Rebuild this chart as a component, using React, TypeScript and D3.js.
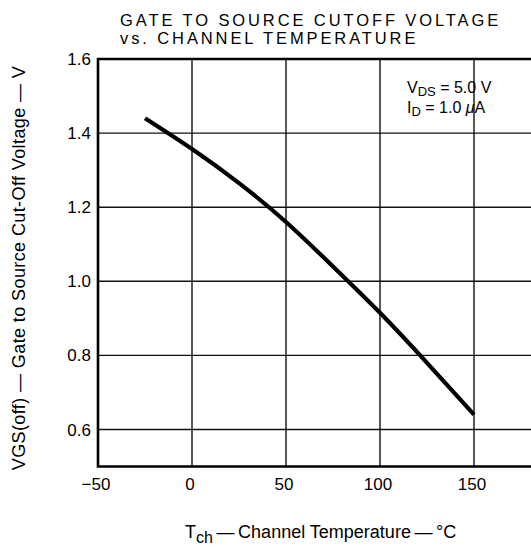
import * as d3 from 'd3';
import React, { useEffect, useRef } from 'react';

// channel temperature (°C) vs VGS(off) (V)
const temps = [-25, 0, 25, 50, 75, 100, 125, 150];
const volts = [1.44, 1.357, 1.265, 1.16, 1.04, 0.915, 0.78, 0.64];

const xTicks = [-50, 0, 50, 100, 150, 200];
const yTicks = [0.6, 0.8, 1.0, 1.2, 1.4, 1.6];

const titleLines = ['GATE TO SOURCE CUTOFF VOLTAGE', 'vs. CHANNEL TEMPERATURE'];

const font = '"Liberation Sans", Arial, sans-serif';

/**
 * Gate to source cutoff voltage chart.
 */
export default function App() {
    const ref = useRef<SVGSVGElement>(null);

    useEffect(() => {
        document.body.style.margin = '0';
        const svg = d3.select(ref.current);
        svg.selectAll('*').remove();

        const x = d3.scaleLinear().domain([-50, 150]).range([98, 474]);
        const y = d3.scaleLinear().domain([0.6, 1.6]).range([429.5, 59]);
        const x0 = x(-50);
        const x1 = x(200);
        const yTop = y(1.6);
        const yBot = y(0.5);

        // grid
        const grid = svg.append('g').attr('stroke', '#111').attr('stroke-width', 1.4);
        grid.selectAll('line.v')
            .data(xTicks.slice(1))
            .enter()
            .append('line')
            .attr('x1', d => x(d)).attr('x2', d => x(d))
            .attr('y1', yTop).attr('y2', yBot);
        grid.selectAll('line.h')
            .data(yTicks.slice(0, -1))
            .enter()
            .append('line')
            .attr('x1', x0).attr('x2', x1)
            .attr('y1', d => y(d)).attr('y2', d => y(d));

        // frame
        svg.append('path')
            .attr('d', `M${x1},${yTop}H${x0}V${yBot}H${x1}`)
            .attr('fill', 'none')
            .attr('stroke', '#000')
            .attr('stroke-width', 2.6);

        // curve
        const line = d3.line<number>()
            .x((_, i) => x(temps[i]))
            .y(d => y(d))
            .curve(d3.curveNatural);
        svg.append('path')
            .attr('d', line(volts))
            .attr('fill', 'none')
            .attr('stroke', '#000')
            .attr('stroke-width', 4.2);

        // tick labels
        svg.append('g')
            .selectAll('text')
            .data(yTicks)
            .enter()
            .append('text')
            .attr('x', 91)
            .attr('y', d => y(d) + 6)
            .attr('text-anchor', 'end')
            .style('font-size', '17px')
            .text(d => d.toFixed(1));
        svg.append('g')
            .selectAll('text')
            .data(xTicks.slice(0, -1))
            .enter()
            .append('text')
            .attr('x', d => x(d) - 2)
            .attr('y', 490)
            .attr('text-anchor', 'middle')
            .style('font-size', '17px')
            .text(d => (d < 0 ? `−${-d}` : `${d}`));

        // title
        svg.append('g')
            .selectAll('text')
            .data(titleLines)
            .enter()
            .append('text')
            .attr('x', 120)
            .attr('y', (_, i) => 26 + i * 18)
            .style('font-size', '16.5px')
            .style('letter-spacing', '2.9px')
            .text(d => d);

        // conditions
        const cond = svg.append('text').attr('x', 407).attr('y', 93).style('font-size', '16px');
        cond.append('tspan').text('V');
        cond.append('tspan').attr('dy', 3).style('font-size', '13px').text('DS');
        cond.append('tspan').attr('dy', -3).text(' = 5.0 V');
        const cond2 = svg.append('text').attr('x', 407).attr('y', 113).style('font-size', '16px');
        cond2.append('tspan').text('I');
        cond2.append('tspan').attr('dy', 3).style('font-size', '13px').text('D');
        cond2.append('tspan').attr('dy', -3).text(' = 1.0 ');
        cond2.append('tspan').style('font-style', 'italic').text('μ');
        cond2.append('tspan').text('A');

        // x axis title
        const xt = svg.append('text').attr('x', 185).attr('y', 538).style('font-size', '18px');
        xt.append('tspan').text('T');
        xt.append('tspan').attr('dy', 5).style('font-size', '16px').text('ch');
        xt.append('tspan').attr('dy', -5).text('\u2009—\u2009Channel Temperature\u2009—\u2009°C');

        // y axis title
        svg.append('text')
            .attr('transform', 'translate(25,268) rotate(-90)')
            .attr('text-anchor', 'middle')
            .style('font-size', '18px')
            .style('letter-spacing', '0.4px')
            .text('VGS(off) — Gate to Source Cut-Off Voltage — V');
    }, []);

    return (
        <svg ref={ref} width={531} height={548} style={{ display: 'block', fontFamily: font }}>
        </svg>
    );
}
